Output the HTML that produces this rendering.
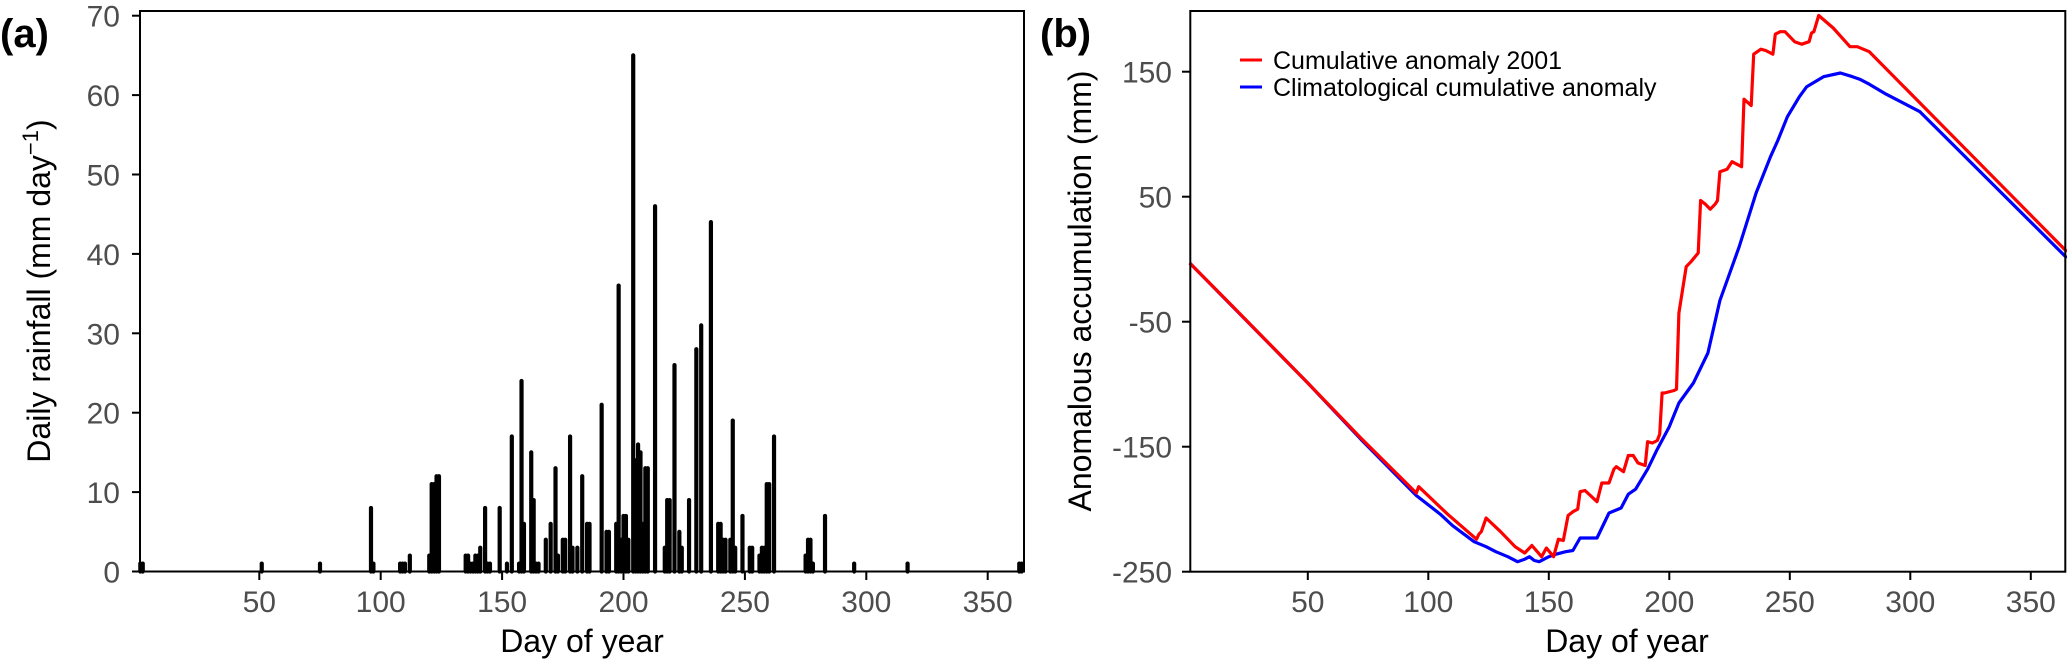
<!DOCTYPE html>
<html><head><meta charset="utf-8"><style>
html,body{margin:0;padding:0;background:#fff;}
svg{display:block;font-family:"Liberation Sans",Arial,sans-serif;}
.tick{font-size:30px;fill:#4d4d4d;}
.lab{font-size:32px;fill:#000;}
</style></head><body>
<svg id="chart" width="2067" height="662" viewBox="0 0 2067 662">
<text x="0" y="47" font-size="40" font-weight="bold">(a)</text>
<text x="1040" y="47" font-size="40" font-weight="bold">(b)</text>
<g id="pa"></g>
<g id="pb"></g>
<text class="lab" transform="translate(50,291) rotate(-90)" text-anchor="middle">Daily rainfall (mm day<tspan dy="-12" font-size="22">−1</tspan><tspan dy="12">)</tspan></text>
<text class="lab" x="582" y="652" text-anchor="middle">Day of year</text>
<text class="lab" transform="translate(1091,291) rotate(-90)" text-anchor="middle">Anomalous accumulation (mm)</text>
<text class="lab" x="1627" y="652" text-anchor="middle">Day of year</text>
<line x1="1240" y1="60" x2="1262" y2="60" stroke="#ff0000" stroke-width="3"/>
<text x="1273" y="69" font-size="25">Cumulative anomaly 2001</text>
<line x1="1240" y1="87" x2="1262" y2="87" stroke="#0000ff" stroke-width="3"/>
<text x="1273" y="96" font-size="25">Climatological cumulative anomaly</text>
</svg>
<script>
const rainDays=[1,2,51,75,96,97,108,109,110,112,120,121,122,123,124,135,136,137,138,139,140,141,143,144,145,149,152,154,157,158,159,162,163,164,165,168,170,172,173,175,176,178,179,181,183,185,186,191,193,194,197,198,199,200,201,202,204,205,206,207,208,209,210,213,217,218,219,221,223,224,227,230,232,236,239,240,241,242,244,245,246,249,252,253,256,257,258,259,260,262,275,276,277,278,283,295,317,363,364];
const rainVals=[1,1,1,1,8,1,1,1,1,2,2,11,11,12,12,2,2,1,1,2,2,3,8,1,1,8,1,17,1,24,6,15,9,1,1,4,6,13,2,4,4,17,3,3,12,6,6,21,5,5,6,36,4,7,7,4,65,14,16,15,6,13,13,46,3,9,9,26,5,3,9,28,31,44,6,6,4,4,4,19,3,7,3,3,2,3,3,11,11,17,2,4,4,1,7,1,1,1,1];
const yTicksA=[0,10,20,30,40,50,60,70];
const xTicks=[50,100,150,200,250,300,350];
const redDays=[1,20,50,72,95,96,108,120,121,122,124,130,136,140,143,147,149,152,154,156,158,160,162,163,165,170,172,175,177,178,181,183,185,187,190,191,193,195,196,197,198,202,203,204,207,209,212,213,215,217,219,220,221,224,226,228,230,231,234,235,238,240,243,244,246,248,250,252,255,258,259,260,262,268,275,278,283,365];
const redVals=[-3,-40,-99,-143,-187,-182,-204,-224,-220,-218,-207,-218,-230,-235,-229,-238,-231,-238,-224,-225,-205,-202,-200,-186,-185,-194,-179,-179,-168,-166,-170,-157,-157,-163,-165,-146,-147,-145,-140,-107,-107,-105,-104,-43,-6,-2,5,47,44,40,44,47,70,72,78,76,74,128,123,164,168,167,164,180,182,182,178,174,172,174,181,182,195,185,170,170,166,6];
const blueDays=[1,50,72,95,105,110,119,124,128,133,137,140,142,144,146,150,153,157,160,163,170,175,180,183,186,191,195,200,204,210,216,221,224,229,236,242,245,249,254,257,264,271,276,279,283,290,304,365];
const blueVals=[-3,-99,-144,-189,-204,-213,-226,-230,-234,-238,-242,-240,-238,-241,-242,-238,-236,-234,-233,-223,-223,-203,-199,-188,-184,-168,-152,-134,-115,-99,-75,-33,-17,10,53,82,95,114,130,138,146,149,146,144,140,132,118,1];
const yTicksB=[-250,-150,-50,50,150];

const NS='http://www.w3.org/2000/svg';
function mk(parent,tag,attrs){const e=document.createElementNS(NS,tag);for(const k in attrs)e.setAttribute(k,attrs[k]);parent.appendChild(e);return e;}
// panel a scales
const xA=d=>137.9+2.428*d, yA=v=>571.5-7.94*v;
const xB=d=>1187.3+2.41*d, yB=v=>571.7-1.25*(v+250);
const pa=document.getElementById('pa'), pb=document.getElementById('pb');
rainDays.forEach((d,i)=>{
  const b=mk(pa,'line',{x1:xA(d),x2:xA(d),y1:yA(0),y2:yA(rainVals[i]),stroke:'#000','stroke-width':4.2,'stroke-linecap':'round'});
  
  
});
let f=mk(pa,'rect',{x:140,y:11,width:884,height:560.5,fill:'none',stroke:'#000','stroke-width':2});


yTicksA.forEach(v=>{
  mk(pa,'line',{x1:132,x2:140,y1:yA(v),y2:yA(v),stroke:'#000','stroke-width':2});
  const t=mk(pa,'text',{x:120,y:yA(v)+11,'text-anchor':'end',class:'tick'});t.textContent=v;
  
  
});
xTicks.forEach(v=>{
  mk(pa,'line',{x1:xA(v),x2:xA(v),y1:571,y2:580,stroke:'#000','stroke-width':2});
  const t=mk(pa,'text',{x:xA(v),y:612,'text-anchor':'middle',class:'tick'});t.textContent=v;
  
  
});
// panel b
function pts(ds,vs){return ds.map((d,i)=>xB(d).toFixed(1)+','+yB(vs[i]).toFixed(1)).join(' ');}
let bl=mk(pb,'polyline',{points:pts(blueDays,blueVals),fill:'none',stroke:'#0000ff','stroke-width':3.2,'stroke-linejoin':'round'});


let rl=mk(pb,'polyline',{points:pts(redDays,redVals),fill:'none',stroke:'#ff0000','stroke-width':3.2,'stroke-linejoin':'round'});


let f2=mk(pb,'rect',{x:1190.3,y:11,width:875,height:560.7,fill:'none',stroke:'#000','stroke-width':2});


yTicksB.forEach(v=>{
  mk(pb,'line',{x1:1182,x2:1190,y1:yB(v),y2:yB(v),stroke:'#000','stroke-width':2});
  const t=mk(pb,'text',{x:1172,y:yB(v)+11,'text-anchor':'end',class:'tick'});t.textContent=v;
  
  
});
xTicks.forEach(v=>{
  mk(pb,'line',{x1:xB(v),x2:xB(v),y1:571,y2:580,stroke:'#000','stroke-width':2});
  const t=mk(pb,'text',{x:xB(v),y:612,'text-anchor':'middle',class:'tick'});t.textContent=v;
  
  
});
</script>
</body></html>
